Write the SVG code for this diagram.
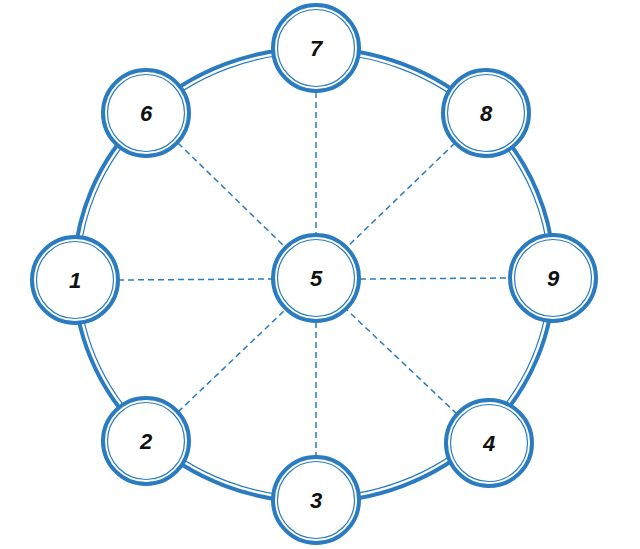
<svg xmlns="http://www.w3.org/2000/svg" width="640" height="549" viewBox="0 0 640 549">
<style>
.o{fill:none;stroke:#2a7bc0;stroke-width:4}
.f{fill:#fff;stroke:#2a7bc0;stroke-width:4}
.i{fill:none;stroke:#2a7bc0;stroke-width:1.2}
.d{stroke:#2a7bc0;stroke-width:1.5;stroke-dasharray:6,4}
text{font-family:"Liberation Sans",Arial,sans-serif;font-weight:bold;font-style:italic;font-size:22px;fill:#111;text-anchor:middle}
</style>
<rect width="640" height="549" fill="#fff"/>
<g id="ring"><ellipse cx="314" cy="275" rx="240" ry="227" class="o"/><ellipse cx="314" cy="275" rx="235" ry="222" class="i"/></g>
<g id="connectors">
<line class="d" x1="316" y1="92" x2="316" y2="234"/>
<line class="d" x1="316" y1="322" x2="316" y2="457"/>
<line class="d" x1="118" y1="280" x2="272" y2="279"/>
<line class="d" x1="360" y1="279" x2="510" y2="278"/>
<line class="d" x1="178" y1="143" x2="285" y2="247"/>
<line class="d" x1="455" y1="143" x2="347" y2="247"/>
<line class="d" x1="178" y1="412" x2="285" y2="310"/>
<line class="d" x1="457" y1="414" x2="347" y2="310"/>
</g>
<defs><g id="n"><circle r="43" class="f"/><circle r="38.5" class="i"/></g></defs>
<g id="n5"><use href="#n" x="316" y="278"/><text x="316" y="286">5</text></g>
<g id="n1"><use href="#n" x="75" y="280"/><text x="75" y="288">1</text></g>
<g id="n9"><use href="#n" x="553" y="278"/><text x="553" y="286">9</text></g>
<g id="n7"><use href="#n" x="316" y="48"/><text x="316" y="56">7</text></g>
<g id="n3"><use href="#n" x="316" y="500"/><text x="316" y="508">3</text></g>
<g id="n6"><use href="#n" x="146" y="113"/><text x="146" y="121">6</text></g>
<g id="n8"><use href="#n" x="486" y="113"/><text x="486" y="121">8</text></g>
<g id="n2"><use href="#n" x="146" y="441"/><text x="146" y="449">2</text></g>
<g id="n4"><use href="#n" x="489" y="443"/><text x="489" y="451">4</text></g>
</svg>
